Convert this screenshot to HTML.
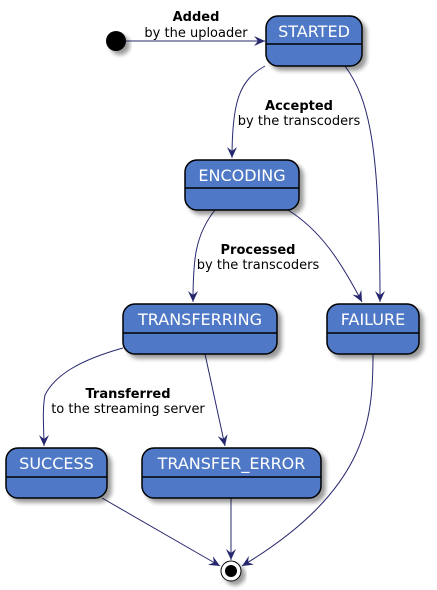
<!DOCTYPE html>
<html><head><meta charset="utf-8"><style>
body{margin:0;background:#fff;}
svg{display:block;font-family:"DejaVu Sans","Liberation Sans",sans-serif;}
</style></head><body>
<svg width="437" height="590" viewBox="0 0 437 590" xmlns="http://www.w3.org/2000/svg">
<defs>
<marker id="a" viewBox="0 0 12 10" refX="11" refY="5" markerWidth="12" markerHeight="10" markerUnits="userSpaceOnUse" orient="auto">
<path d="M0,0 L11,5 L0,10 L4,5 Z" fill="#27276e"/>
</marker>
<filter id="s" x="-20%" y="-20%" width="150%" height="160%"><feGaussianBlur in="SourceAlpha" stdDeviation="2"/><feOffset dx="4" dy="4"/><feComponentTransfer><feFuncA type="linear" slope="0.4"/></feComponentTransfer><feMerge><feMergeNode/><feMergeNode in="SourceGraphic"/></feMerge></filter>
</defs>
<g fill="none" stroke="#27276e" stroke-width="1" marker-end="url(#a)">
<path d="M126,41 L265,41"/>
<path d="M265,66 C240,80 232,100 232,158"/>
<path d="M345,66 C370,100 380,150 380,302"/>
<path d="M215,210 C195,235 193,260 193,302"/>
<path d="M288,210 C320,230 340,260 362,302"/>
<path d="M123,348 C80,360 55,375 45,395 C42,410 44,430 44,446"/>
<path d="M205,354 L225,446"/>
<path d="M102,498 L220,566"/>
<path d="M231,498 L231,560"/>
<path d="M373,354 C373,420 368,490 242,566"/>
</g>
<circle cx="116" cy="41" r="10" fill="#000" filter="url(#s)"/>
<g filter="url(#s)">
<circle cx="231" cy="571" r="10" fill="#fff" stroke="#000" stroke-width="1"/>
<circle cx="231" cy="571" r="6" fill="#000"/>
</g>
<g stroke="#000" stroke-width="1.5" fill="#5079c6" filter="url(#s)">
<rect x="266" y="16" width="96" height="50" rx="12"/>
<rect x="185" y="160" width="114" height="50" rx="12"/>
<rect x="123" y="304" width="154" height="50" rx="12"/>
<rect x="327" y="304" width="92" height="50" rx="12"/>
<rect x="6" y="448" width="101" height="50" rx="12"/>
<rect x="142" y="448" width="179" height="50" rx="12"/>
</g>
<g stroke="#000" stroke-width="1.5">
<line x1="266" y1="44" x2="362" y2="44"/>
<line x1="185" y1="188" x2="299" y2="188"/>
<line x1="123" y1="333" x2="277" y2="333"/>
<line x1="327" y1="333" x2="419" y2="333"/>
<line x1="6" y1="477" x2="107" y2="477"/>
<line x1="142" y1="477" x2="321" y2="477"/>
</g>
<g fill="#fff" font-size="16" text-anchor="middle">
<text x="314" y="37">STARTED</text>
<text x="242" y="181">ENCODING</text>
<text x="200" y="325">TRANSFERRING</text>
<text x="373" y="325">FAILURE</text>
<text x="56.5" y="469">SUCCESS</text>
<text x="231.5" y="469">TRANSFER_ERROR</text>
</g>
<g fill="#000" font-size="13" text-anchor="middle">
<text x="196" y="21" font-weight="bold">Added</text>
<text x="196" y="37">by the uploader</text>
<text x="299" y="110" font-weight="bold">Accepted</text>
<text x="299" y="125">by the transcoders</text>
<text x="258" y="254" font-weight="bold">Processed</text>
<text x="258" y="269">by the transcoders</text>
<text x="128" y="398" font-weight="bold">Transferred</text>
<text x="128" y="413">to the streaming server</text>
</g>
</svg>
</body></html>
